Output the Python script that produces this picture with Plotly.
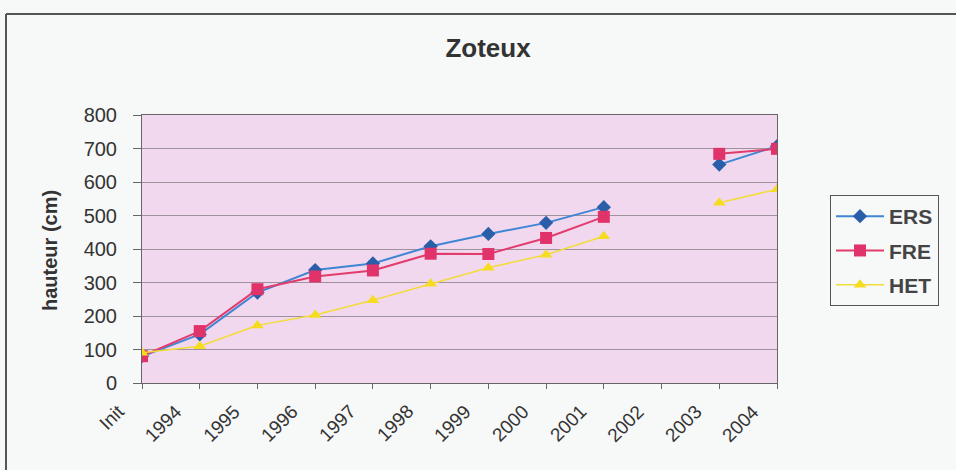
import plotly.graph_objects as go

categories = ["Init", "1994", "1995", "1996", "1997", "1998", "1999",
              "2000", "2001", "2002", "2003", "2004"]
ers = [80, 145, 270, 337, 357, 408, 445, 478, 525, None, 652, 707]
fre = [80, 155, 280, 318, 336, 386, 385, 433, 496, None, 684, 699]
het = [90, 110, 172, 203, 247, 296, 344, 383, 438, None, 538, 578]
y_ticks = [0, 100, 200, 300, 400, 500, 600, 700, 800]

W, H = 956, 470
L, R, T, B = 142, 179, 115, 87
PW, PH = W - L - R, H - T - B


def px(x):
    return (x - L) / PW


def py(y):
    return (H - B - y) / PH


FONT = "Arial, Liberation Sans, sans-serif"
idx = list(range(len(categories)))
n_int = len(categories) - 1

fig = go.Figure()
fig.add_trace(go.Scatter(
    x=idx, y=ers, name="ERS", mode="lines+markers", legendgroup="a",
    line=dict(color="#3f86d4", width=2),
    marker=dict(symbol="diamond", size=11, color="#2b5ea8"),
    connectgaps=False))
fig.add_trace(go.Scatter(
    x=idx, y=fre, name="FRE", mode="lines+markers", legendgroup="b",
    line=dict(color="#e23c6c", width=2),
    marker=dict(symbol="square", size=12, color="#e0336a"),
    connectgaps=False))
fig.add_trace(go.Scatter(
    x=idx, y=het, name="HET", mode="lines+markers", legendgroup="c",
    line=dict(color="#f2dc3c", width=1.5),
    marker=dict(symbol="triangle-up", size=11, color="#f5dc1e"),
    connectgaps=False))

annotations = []
for i, c in enumerate(categories):
    annotations.append(dict(
        x=i / n_int - 11 / PW, xref="paper", y=0, yref="paper", yshift=-15,
        text=c, showarrow=False, textangle=-45,
        xanchor="right", yanchor="top",
        font=dict(family=FONT, size=19, color="#333")))
annotations.append(dict(
    x=px(50), xref="paper", y=py(251), yref="paper",
    text="<b>hauteur (cm)</b>", showarrow=False, textangle=-90,
    xanchor="center", yanchor="middle",
    font=dict(family=FONT, size=20, color="#333")))

shapes = [
    dict(type="line", xref="paper", yref="paper",
         x0=px(6), x1=px(6), y0=py(14), y1=py(470), line=dict(color="#555", width=2)),
    dict(type="line", xref="paper", yref="paper",
         x0=px(6), x1=px(956), y0=py(14), y1=py(14), line=dict(color="#555", width=2)),
]

fig.update_layout(
    width=W, height=H,
    margin=dict(l=L, r=R, t=T, b=B),
    paper_bgcolor="#f7f8f8",
    plot_bgcolor="#f2d8ee",
    font=dict(family=FONT, color="#333"),
    title=dict(text="<b>Zoteux</b>", x=488 / W, xref="container", xanchor="center",
               y=1 - 48 / H, yref="container", yanchor="middle",
               font=dict(family=FONT, size=26, color="#333")),
    showlegend=True,
    legend=dict(x=px(830), y=py(195), xanchor="left", yanchor="top",
                bordercolor="#555", borderwidth=1, bgcolor="rgba(0,0,0,0)",
                font=dict(family=FONT, size=21, color="#444", weight="bold"),
                tracegroupgap=4, itemwidth=48),
    annotations=annotations,
    shapes=shapes,
    xaxis=dict(range=[0, n_int], tickvals=idx,
               ticktext=[""] * len(categories),
               ticks="outside", ticklen=5, tickcolor="#666",
               showgrid=False, zeroline=False,
               showline=True, linecolor="#666", linewidth=1, mirror=True,
               fixedrange=True),
    yaxis=dict(range=[0, 800], tickvals=y_ticks,
               ticks="outside", ticklen=8, tickcolor="#666",
               ticklabelstandoff=12,
               tickfont=dict(family=FONT, size=20, color="#333"),
               showgrid=True, gridcolor="rgba(90,90,90,0.55)", gridwidth=1,
               zeroline=False,
               showline=True, linecolor="#666", linewidth=1, mirror=True),
)

fig.write_html("out.html",
               config={"displayModeBar": False},
               post_script="document.body.style.margin='0';"
                           "document.body.style.overflow='hidden';")
